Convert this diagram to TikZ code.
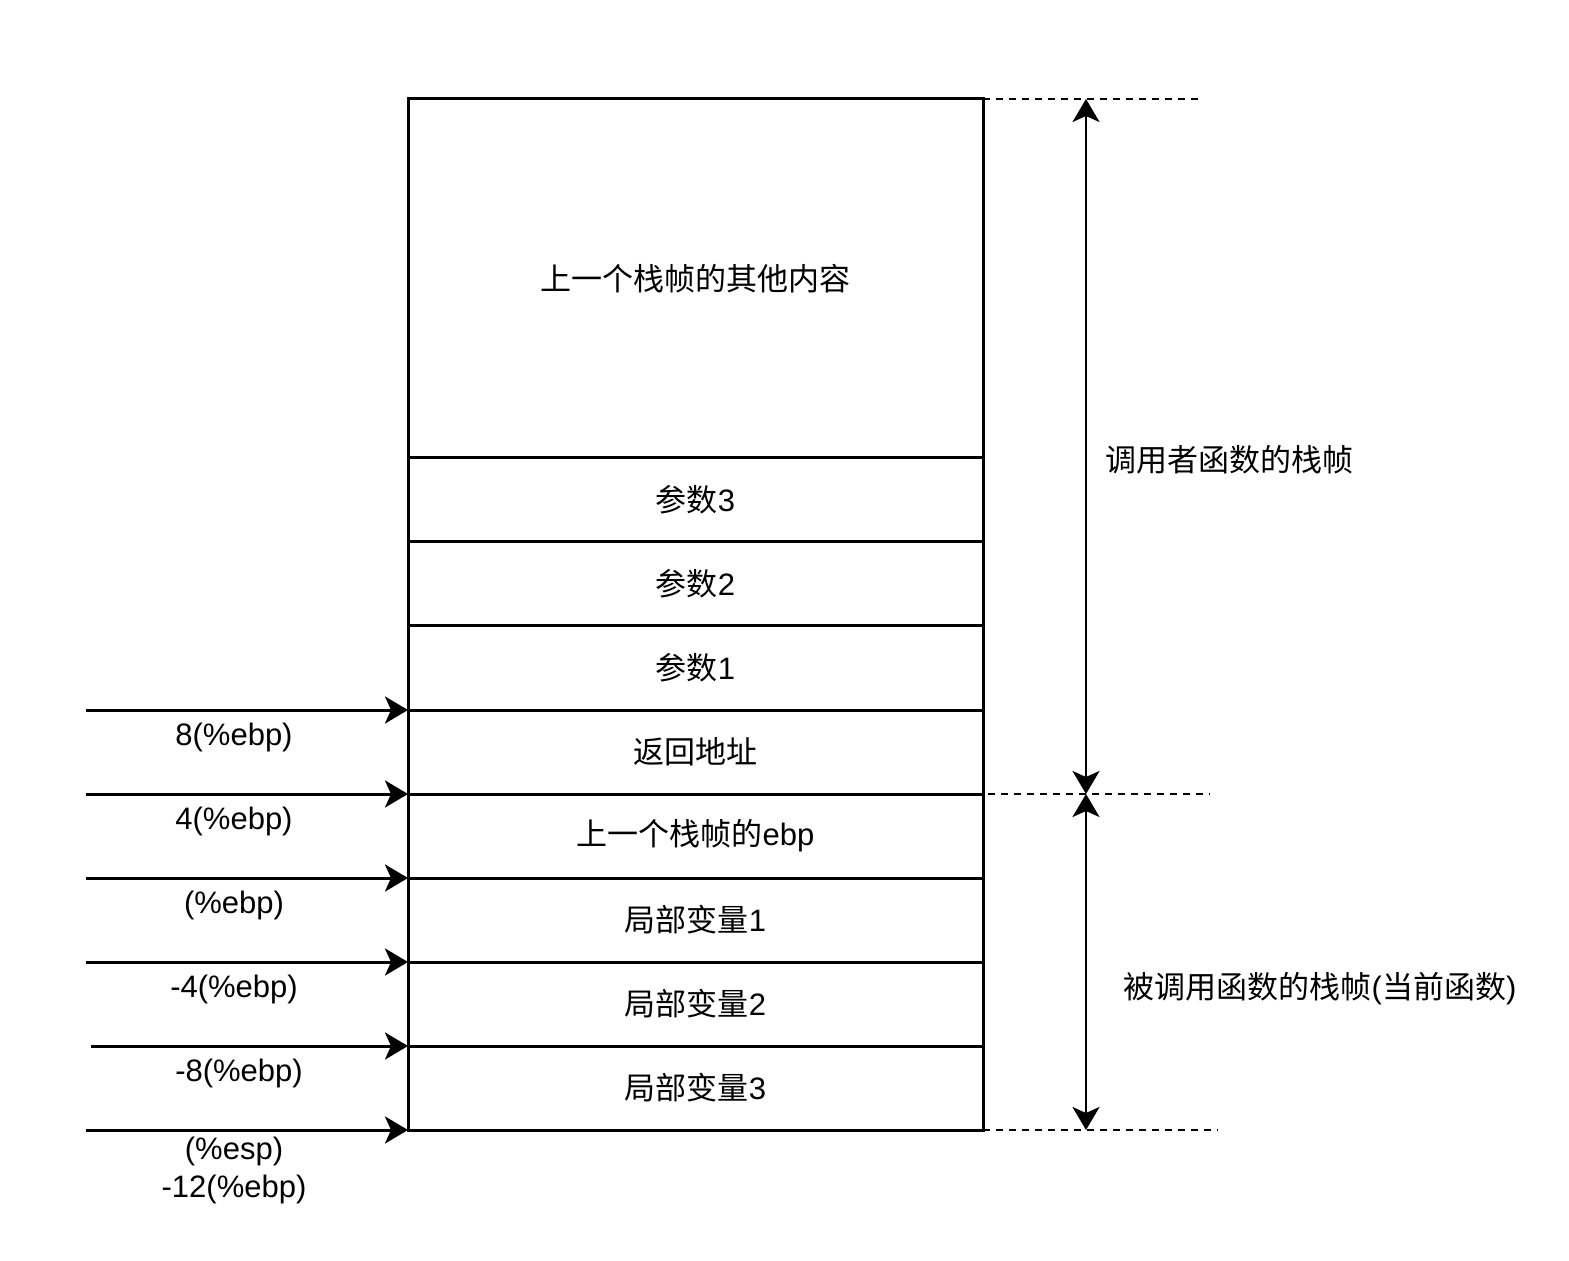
\documentclass[tikz,border=0pt]{standalone}
\usepackage{fontspec}
\setmainfont{Liberation Sans}
\newfontfamily\cjk{Noto Sans CJK SC}
\newcommand{\zh}[1]{{\cjk #1}}
\usetikzlibrary{arrows.meta,positioning}

\tikzset{
	cell/.style={draw, line width=1.5pt, outer sep=0pt, inner sep=0pt,
		minimum width=287.5pt, minimum height=42pt, font=\fontsize{15.5}{18}\selectfont},
	tip/.tip={Stealth[length=11.5pt, width=13.5pt, inset=3pt]},
	ptr/.style={line width=1.5pt, -tip},
	span/.style={line width=1.3pt, tip-tip},
	guide/.style={line width=1.4pt, dash pattern=on 3.5pt off 3pt},
	lbl/.style={font=\fontsize{15.5}{18}\selectfont, align=center, inner sep=0pt},
}

\begin{document}
\begin{tikzpicture}[x=0.5pt, y=-0.5pt]
	\useasboundingbox (0,0) rectangle (1569,1261);
	% stack cells
	\node[cell, minimum height=179.5pt] (prev) at (695.5,278.5) {\zh{上一个栈帧的其他内容}};
	\foreach \name/\txt [count=\i] in {arg3/\zh{参数}3, arg2/\zh{参数}2, arg1/\zh{参数}1,
		ret/\zh{返回地址}, oldebp/\zh{上一个栈帧的}ebp, loc1/\zh{局部变量}1,
		loc2/\zh{局部变量}2, loc3/\zh{局部变量}3}
		\node[cell] (\name) at (695.5,416+84*\i) {\txt};
	% pointers on the left
	\coordinate (p8) at (86,710);
	\coordinate (p4) at (86,794);
	\coordinate (p0) at (86,878);
	\coordinate (m4) at (86,962);
	\coordinate (m8) at (91,1046);
	\coordinate (m12) at (86,1130);
	\draw[ptr] (p8) -- (ret.north west);
	\draw[ptr] (p4) -- (oldebp.north west);
	\draw[ptr] (p0) -- (loc1.north west);
	\draw[ptr] (m4) -- (loc2.north west);
	\draw[ptr] (m8) -- (loc3.north west);
	\draw[ptr] (m12) -- (loc3.south west);
	\node[lbl] (l8) at (234,737) {8(\%ebp)};
	\node[lbl] (l4) at (234,821) {4(\%ebp)};
	\node[lbl] (l0) at (234,905) {(\%ebp)};
	\node[lbl] (lm4) at (234,989) {-4(\%ebp)};
	\node[lbl] (lm8) at (239,1073) {-8(\%ebp)};
	\node[lbl] (lm12) at (234,1170) {(\%esp)\\[1pt]-12(\%ebp)};
	% frame extents on the right
	\coordinate (g1) at (1200,99);
	\coordinate (g2a) at (975,794);
	\coordinate (g2) at (1210,794);
	\coordinate (g3) at (1218,1130);
	\draw[guide] (prev.north east) -- (g1);
	\draw[guide] (g2a) -- (g2);
	\draw[guide] (loc3.south east) -- (g3);
	\coordinate (s1) at (1086,99);
	\coordinate (s2) at (1086,794);
	\coordinate (s3) at (1086,1130);
	\draw[span] (s1) -- (s2);
	\draw[span] (s2) -- (s3);
	\node[lbl] (caller) at (1229,460) {\zh{调用者函数的栈帧}};
	\node[lbl] (callee) at (1320,989) {\zh{被调用函数的栈帧}(\zh{当前函数})};
\end{tikzpicture}
\end{document}
